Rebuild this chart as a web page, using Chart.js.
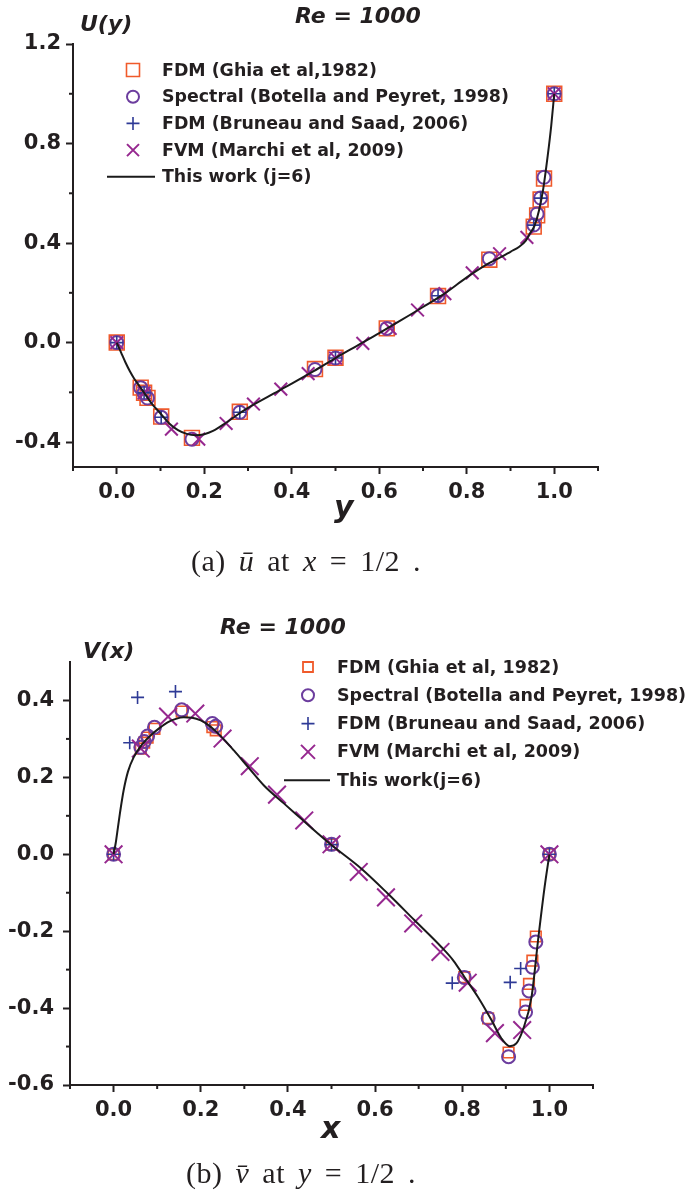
<!DOCTYPE html>
<html>
<head>
<meta charset="utf-8">
<script src="https://cdn.jsdelivr.net/npm/chart.js@4.4.1/dist/chart.umd.min.js"></script>
<style>
  html, body { margin: 0; padding: 0; background: #fff; }
  body { width: 691px; height: 1195px; position: relative; overflow: hidden; }
  canvas { position: absolute; left: 0; }
  .lbl { position: absolute; font-family: "DejaVu Sans", sans-serif; font-weight: bold; font-style: italic;
         color: #231f20; white-space: nowrap; line-height: 1; }
  .cap { position: absolute; font-family: "Liberation Serif", serif; font-size: 30px; color: #231f20;
         white-space: nowrap; line-height: 1; letter-spacing: 0.5px; word-spacing: 5px; }
  .cap i { font-style: italic; }
</style>
</head>
<body>
<canvas id="chartU" width="691" height="600" style="top:0"></canvas>
<canvas id="chartV" width="691" height="595" style="top:600px"></canvas>

<div class="lbl" style="left:80px; top:13px; font-size:22px">U(y)</div>
<div class="lbl" style="left:295px; top:5px; font-size:22px">Re = 1000</div>
<div class="lbl" style="left:334px; top:492px; font-size:30px">y</div>
<div class="cap" style="left:191px; top:546px">(a) <i>ū</i> at <i>x</i> = 1/2 .</div>

<div class="lbl" style="left:220px; top:616px; font-size:22px">Re = 1000</div>
<div class="lbl" style="left:83px; top:640px; font-size:22px">V(x)</div>
<div class="lbl" style="left:321px; top:1113px; font-size:30px">x</div>
<div class="cap" style="left:186px; top:1158px">(b) <i>v̄</i> at <i>y</i> = 1/2 .</div>

<script>
// ---- (a) U(y) along x = 1/2 ----
const uY = [0.0000, 0.0547, 0.0625, 0.0703, 0.1016, 0.1719, 0.2813, 0.4531, 0.5000, 0.6172, 0.7344, 0.8516, 0.9531, 0.9609, 0.9688, 0.9766, 1.0000];
const uGhia = [0.0, -0.18109, -0.20196, -0.22220, -0.29730, -0.38289, -0.27805, -0.10648, -0.06080, 0.05702, 0.18719, 0.33304, 0.46604, 0.51117, 0.57492, 0.65928, 1.0];
const uBotella = [0.0, -0.1811, -0.2023, -0.2228, -0.3004, -0.3885, -0.2803, -0.1081, -0.0620, 0.0570, 0.1886, 0.3372, 0.4723, 0.5169, 0.5808, 0.6644, 1.0];
const uBruneauY = [0.0, 0.0625, 0.1016, 0.2813, 0.5000, 0.7344, 0.9531, 0.9688, 1.0];
const uBruneau = [0.0, -0.2020, -0.3002, -0.2801, -0.0618, 0.1885, 0.4721, 0.5806, 1.0];
const uMarchiY = [0, 0.0625, 0.125, 0.1875, 0.25, 0.3125, 0.375, 0.4375, 0.5, 0.5625, 0.625, 0.6875, 0.75, 0.8125, 0.875, 0.9375, 1.0];
const uMarchi = [0, -0.202, -0.348, -0.388, -0.325, -0.247, -0.187, -0.125, -0.062, -0.003, 0.057, 0.131, 0.197, 0.280, 0.357, 0.423, 1.0];
const uWorkY = [0, 0.01, 0.02, 0.03, 0.04, 0.05, 0.06, 0.08, 0.10, 0.12, 0.14, 0.16, 0.18, 0.20, 0.22, 0.25, 0.28, 0.30, 0.35, 0.40, 0.45, 0.50,
                0.55, 0.60, 0.65, 0.70, 0.75, 0.80, 0.85, 0.88, 0.90, 0.92, 0.935, 0.945, 0.955, 0.965, 0.975, 0.985, 0.993, 1.0];
const uWork = [0, -0.04, -0.08, -0.115, -0.145, -0.17, -0.195, -0.245, -0.285, -0.325, -0.352, -0.367, -0.372, -0.368, -0.355, -0.322, -0.285, -0.262, -0.213, -0.165, -0.115, -0.062,
               -0.012, 0.038, 0.09, 0.143, 0.198, 0.262, 0.318, 0.345, 0.365, 0.385, 0.41, 0.44, 0.47, 0.53, 0.62, 0.75, 0.87, 1.0];
const uMajorY = [-0.4, 0.0, 0.4, 0.8, 1.2];
const uMinorY = [-0.2, 0.2, 0.6, 1.0];

// ---- (b) V(x) along y = 1/2 ----
const vX = [0.0000, 0.0625, 0.0703, 0.0781, 0.0938, 0.1563, 0.2266, 0.2344, 0.5000, 0.8047, 0.8594, 0.9063, 0.9453, 0.9531, 0.9609, 0.9688, 1.0000];
const vGhia = [0.0, 0.27485, 0.29012, 0.30353, 0.32627, 0.37095, 0.33075, 0.32235, 0.02526, -0.31966, -0.42665, -0.51550, -0.39188, -0.33714, -0.27669, -0.21388, 0.0];
const vBotella = [0.0, 0.2780, 0.2933, 0.3077, 0.3302, 0.3756, 0.3398, 0.3330, 0.0258, -0.3202, -0.4264, -0.5264, -0.4103, -0.3553, -0.2936, -0.2279, 0.0];
const vBruneauX = [0.0, 0.037, 0.055, 0.142, 0.5, 0.777, 0.910, 0.934, 1.0];
const vBruneau = [0.0, 0.29, 0.408, 0.423, 0.025, -0.335, -0.333, -0.297, 0.0];
const vMarchiX = [0, 0.0625, 0.125, 0.1875, 0.25, 0.3125, 0.375, 0.4375, 0.5, 0.5625, 0.625, 0.6875, 0.75, 0.8125, 0.875, 0.9375, 1.0];
const vMarchi = [0, 0.275, 0.358, 0.366, 0.301, 0.229, 0.155, 0.088, 0.026, -0.046, -0.112, -0.18, -0.254, -0.334, -0.465, -0.457, 0];
const vWorkX = [0, 0.005, 0.01, 0.015, 0.023, 0.033, 0.046, 0.065, 0.085, 0.105, 0.124, 0.143, 0.161, 0.18, 0.2, 0.22, 0.239, 0.258, 0.276, 0.31, 0.345, 0.39, 0.43, 0.47, 0.5,
                0.568, 0.629, 0.69, 0.752, 0.78, 0.805, 0.836, 0.867, 0.89, 0.909, 0.924, 0.939, 0.959, 0.974, 0.989, 1.0];
const vWork = [0, 0.03, 0.07, 0.11, 0.166, 0.215, 0.252, 0.285, 0.309, 0.328, 0.343, 0.352, 0.356, 0.355, 0.348, 0.334, 0.315, 0.293, 0.27, 0.225, 0.179, 0.133, 0.093, 0.053, 0.024,
               -0.037, -0.102, -0.171, -0.241, -0.277, -0.319, -0.371, -0.431, -0.479, -0.499, -0.492, -0.457, -0.371, -0.223, -0.085, 0];
const vMajorY = [-0.6, -0.4, -0.2, 0.0, 0.2, 0.4];
const vMinorY = [-0.5, -0.3, -0.1, 0.1, 0.3];

// shared x ticks
const majorX = [0.0, 0.2, 0.4, 0.6, 0.8, 1.0];
const minorX = [-0.1, 0.1, 0.3, 0.5, 0.7, 0.9, 1.1];

const axisColor = "#231f20";
const colors = { ghia: "#f05a2b", botella: "#6c3d9e", bruneau: "#2e3a96", marchi: "#96288f", work: "#1a1a1a" };

const pts = (xs, ys) => xs.map((x, i) => ({ x: x, y: ys[i] }));

// draws short minor ticks between labelled ones
const minorTicks = {
    id: "minorTicks",
    afterDraw: (chart, args, opts) => {
        const { ctx, scales: { x, y } } = chart;
        ctx.save();
        ctx.strokeStyle = axisColor;
        ctx.lineWidth = 2;
        opts.x.forEach((v) => {
            const px = x.getPixelForValue(v);
            ctx.beginPath(); ctx.moveTo(px, x.top); ctx.lineTo(px, x.top + 4); ctx.stroke();
        });
        opts.y.forEach((v) => {
            const py = y.getPixelForValue(v);
            ctx.beginPath(); ctx.moveTo(y.right, py); ctx.lineTo(y.right - 4, py); ctx.stroke();
        });
        ctx.restore();
    }
};

function marker(ctx, style, cx, cy, r) {
    ctx.beginPath();
    if (style === "rect") {
        ctx.rect(cx - r, cy - r, 2 * r, 2 * r);
    } else if (style === "circle") {
        ctx.arc(cx, cy, r, 0, Math.PI * 2);
    } else if (style === "cross") {
        ctx.moveTo(cx - r, cy); ctx.lineTo(cx + r, cy);
        ctx.moveTo(cx, cy - r); ctx.lineTo(cx, cy + r);
    } else if (style === "crossRot") {
        ctx.moveTo(cx - r, cy - r); ctx.lineTo(cx + r, cy + r);
        ctx.moveTo(cx + r, cy - r); ctx.lineTo(cx - r, cy + r);
    }
    ctx.stroke();
}

// legend drawn inside the plot area, like the original figure
const boxLegend = {
    id: "boxLegend",
    afterDraw: (chart, args, opts) => {
        const ctx = chart.ctx;
        ctx.save();
        ctx.font = "bold " + opts.fontSize + "px 'DejaVu Sans'";
        ctx.textBaseline = "middle";
        ctx.textAlign = "left";
        opts.items.forEach((it, i) => {
            const y = opts.y + i * opts.dy;
            ctx.strokeStyle = it.color;
            ctx.lineWidth = it.width;
            if (it.style === "line") {
                ctx.beginPath(); ctx.moveTo(opts.lineX0, y); ctx.lineTo(opts.lineX1, y); ctx.stroke();
            } else {
                marker(ctx, it.style, opts.markX, y, it.size);
            }
            ctx.fillStyle = axisColor;
            ctx.fillText(it.text, opts.textX, y + 1);
        });
        ctx.restore();
    }
};

function scatterSet(label, data, style, color, radius, width, order) {
    return {
        label: label, data: data, pointStyle: style, pointRadius: radius, pointBorderWidth: width,
        borderColor: color, pointBorderColor: color, backgroundColor: "rgba(0,0,0,0)", showLine: false, order: order
    };
}

function buildChart(id, cfg) {
    const ctx = document.getElementById(id).getContext("2d");
    const tickFont = { family: "'DejaVu Sans'", size: 21, weight: "bold" };
    return new Chart(ctx, {
        type: "scatter",
        data: {
            datasets: [
                { label: cfg.legend[4].text, data: cfg.work, showLine: true, pointRadius: 0, borderColor: colors.work,
                  borderWidth: 2, cubicInterpolationMode: "monotone", order: 0 },
                scatterSet(cfg.legend[3].text, cfg.marchi, "crossRot", colors.marchi, cfg.r.marchi, 2, 1),
                scatterSet(cfg.legend[2].text, cfg.bruneau, "cross", colors.bruneau, cfg.r.bruneau, 1.6, 2),
                scatterSet(cfg.legend[1].text, cfg.botella, "circle", colors.botella, cfg.r.botella, 2, 3),
                scatterSet(cfg.legend[0].text, cfg.ghia, "rect", colors.ghia, cfg.r.ghia, 1.6, 4)
            ]
        },
        options: {
            responsive: false,
            animation: false,
            layout: { padding: { left: 0, top: cfg.top, right: cfg.right, bottom: 0 } },
            plugins: {
                legend: { display: false },
                tooltip: { enabled: false },
                minorTicks: { x: minorX, y: cfg.minorY },
                boxLegend: cfg.legendBox
            },
            scales: {
                x: {
                    type: "linear", min: -0.1, max: 1.1,
                    afterBuildTicks: (s) => { s.ticks = majorX.map((v) => ({ value: v })); },
                    afterFit: (s) => { s.height = cfg.xHeight; },
                    grid: { drawOnChartArea: false, tickLength: 7, tickWidth: 2, tickColor: axisColor },
                    border: { color: axisColor, width: 2 },
                    ticks: { font: tickFont, color: axisColor, padding: 6, maxRotation: 0,
                             callback: (v) => v.toFixed(1) }
                },
                y: {
                    type: "linear", min: cfg.yMin, max: cfg.yMax,
                    afterBuildTicks: (s) => { s.ticks = cfg.majorY.map((v) => ({ value: v })); },
                    afterFit: (s) => { s.width = cfg.yWidth; },
                    grid: { drawOnChartArea: false, tickLength: 7, tickWidth: 2, tickColor: axisColor },
                    border: { color: axisColor, width: 2 },
                    ticks: { font: tickFont, color: axisColor, padding: cfg.yPad,
                             callback: (v) => v.toFixed(1) }
                }
            }
        },
        plugins: [minorTicks, boxLegend]
    });
}

const legendTop = [
    { text: "FDM (Ghia et al,1982)", style: "rect", color: colors.ghia, size: 6.5, width: 1.6 },
    { text: "Spectral (Botella and Peyret, 1998)", style: "circle", color: colors.botella, size: 6, width: 2 },
    { text: "FDM (Bruneau and Saad, 2006)", style: "cross", color: colors.bruneau, size: 6.5, width: 1.6 },
    { text: "FVM (Marchi et al, 2009)", style: "crossRot", color: colors.marchi, size: 6, width: 2 },
    { text: "This work (j=6)", style: "line", color: colors.work, size: 0, width: 2 }
];
const legendBottom = [
    { text: "FDM (Ghia et al, 1982)", style: "rect", color: colors.ghia, size: 5, width: 1.8 },
    { text: "Spectral (Botella and Peyret, 1998)", style: "circle", color: colors.botella, size: 6, width: 2 },
    { text: "FDM (Bruneau and Saad, 2006)", style: "cross", color: colors.bruneau, size: 6.5, width: 1.6 },
    { text: "FVM (Marchi et al, 2009)", style: "crossRot", color: colors.marchi, size: 7, width: 2 },
    { text: "This work(j=6)", style: "line", color: colors.work, size: 0, width: 2 }
];

buildChart("chartU", {
    work: pts(uWorkY, uWork), ghia: pts(uY, uGhia), botella: pts(uY, uBotella),
    bruneau: pts(uBruneauY, uBruneau), marchi: pts(uMarchiY, uMarchi),
    r: { ghia: 10.5, botella: 6.5, bruneau: 6.5, marchi: 9 },
    legend: legendTop,
    yMin: -0.5, yMax: 1.2, majorY: uMajorY, minorY: uMinorY,
    top: 44, right: 93, xHeight: 600 - 467, yWidth: 73, yPad: 5,
    legendBox: { items: legendTop, y: 70, dy: 26.7, markX: 133, textX: 162, lineX0: 107, lineX1: 155, fontSize: 17.4 }
});

buildChart("chartV", {
    work: pts(vWorkX, vWork), ghia: pts(vX, vGhia), botella: pts(vX, vBotella),
    bruneau: pts(vBruneauX, vBruneau), marchi: pts(vMarchiX, vMarchi),
    r: { ghia: 7.5, botella: 6.5, bruneau: 6.5, marchi: 12.5 },
    legend: legendBottom,
    yMin: -0.6, yMax: 0.5, majorY: vMajorY, minorY: vMinorY,
    top: 62, right: 98, xHeight: 595 - 485, yWidth: 70, yPad: 9,
    legendBox: { items: legendBottom, y: 67, dy: 28.3, markX: 308, textX: 337, lineX0: 284, lineX1: 330, fontSize: 17.5 }
});
</script>
</body>
</html>
